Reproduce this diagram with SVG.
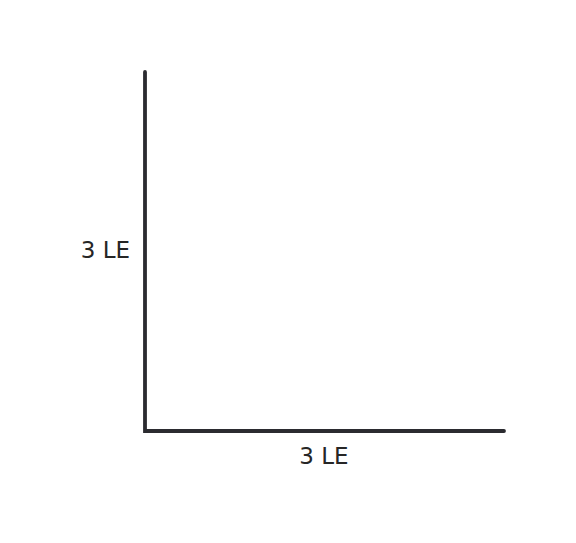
<svg xmlns="http://www.w3.org/2000/svg" width="576" height="543" viewBox="0 0 576 543">
<style>
.ax{stroke:#2b2b30;stroke-width:3.8;fill:none;stroke-linecap:round;stroke-linejoin:miter}
.lb{font-family:"DejaVu Sans",sans-serif;font-size:23px;fill:#262626}
</style>
<rect width="576" height="543" fill="#ffffff"/>
<g id="axes">
<path class="ax" d="M145,72 L145,431 L504,431"/>
</g>
<g id="label-y"><text class="lb" x="130" y="258" text-anchor="end">3 LE</text></g>
<g id="label-x"><text class="lb" x="324" y="464" text-anchor="middle">3 LE</text></g>
</svg>
